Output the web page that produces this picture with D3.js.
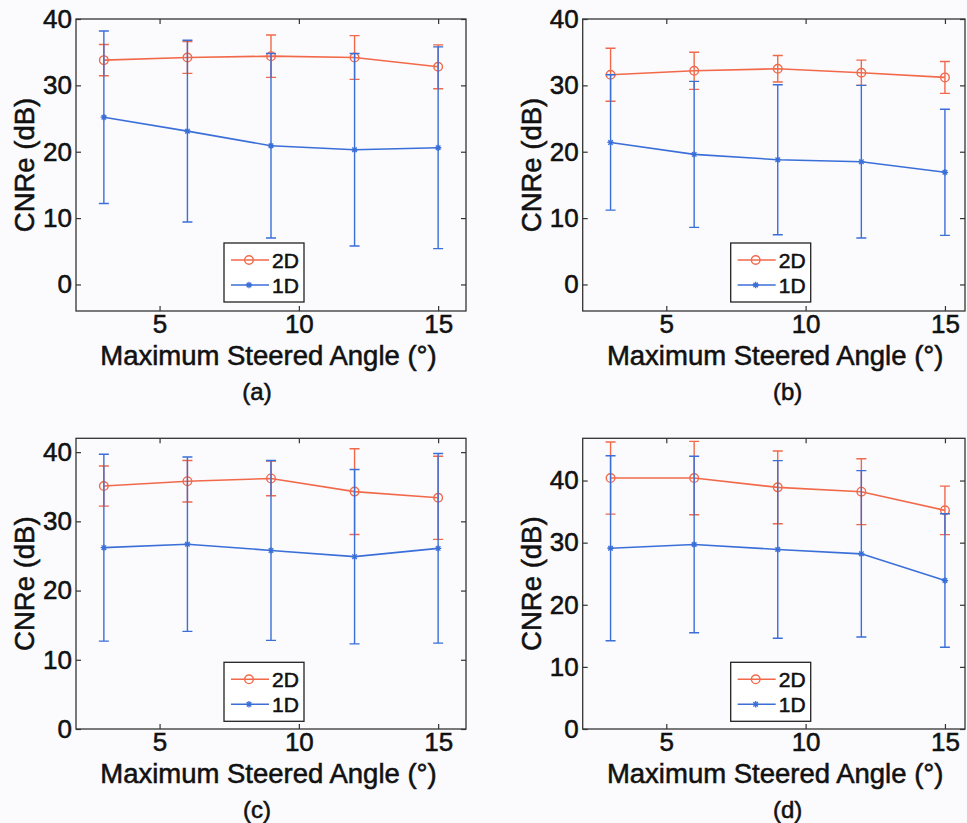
<!DOCTYPE html>
<html>
<head>
<meta charset="utf-8">
<script src="https://cdn.jsdelivr.net/npm/d3@7"></script>
<style>
  html, body { margin: 0; padding: 0; background: #fbfbfe; }
  svg { display: block; }
  text { font-family: "Liberation Sans", Arial, Helvetica, sans-serif; fill: #111; stroke: #111; stroke-width: 0.55px; }
</style>
</head>
<body>
<svg id="fig" width="967" height="823"></svg>
<script>
// Maximum steered angle (degrees) shared by all four panels
const angles = [3, 6, 9, 12, 15];
const seriesNames = ["2D", "1D"];
const panelLabels = ["(a)", "(b)", "(c)", "(d)"];
const xTicks = [5, 10, 15];
const yTicks = [0, 10, 20, 30, 40];

// CNRe mean and standard deviation (dB), panel (a)
const a2DMean = [33.8, 34.2, 34.4, 34.2, 32.8];
const a2DStd  = [2.35, 2.4, 3.2, 3.3, 3.3];
const a1DMean = [25.2, 23.1, 20.9, 20.3, 20.6];
const a1DStd  = [13.0, 13.7, 13.9, 14.5, 15.2];

// panel (b)
const b2DMean = [31.6, 32.2, 32.5, 31.9, 31.2];
const b2DStd  = [4.0, 2.8, 2.0, 1.9, 2.4];
const b1DMean = [21.4, 19.6, 18.8, 18.5, 16.9];
const b1DStd  = [10.2, 11.0, 11.3, 11.5, 9.5];

// panel (c)
const c2DMean = [35.1, 35.8, 36.2, 34.3, 33.4];
const c2DStd  = [2.9, 3.0, 2.5, 6.2, 6.0];
const c1DMean = [26.2, 26.7, 25.8, 24.9, 26.1];
const c1DStd  = [13.5, 12.6, 13.0, 12.6, 13.7];

// panel (d)
const d2DMean = [40.4, 40.4, 38.9, 38.2, 35.2];
const d2DStd  = [5.8, 5.9, 5.85, 5.3, 3.9];
const d1DMean = [29.1, 29.7, 28.9, 28.2, 23.9];
const d1DStd  = [14.9, 14.2, 14.3, 13.4, 10.75];

// axis limits per panel
const xLimits = [[2, 16], [2, 15.72], [2, 16], [2, 15.72]];
const yLimits = [[-4, 40], [-4, 40], [0, 42], [0, 46.8]];

const COLOR_2D = "#f2694a";
const COLOR_1D = "#3b6fd8";
const AXIS = "#333";

// frame placement of each axes box
const frames = [
  { left: 76,    top: 19,    right: 466, bottom: 311 },
  { left: 582.7, top: 19,    right: 965, bottom: 311 },
  { left: 76,    top: 438.3, right: 466, bottom: 729 },
  { left: 582.7, top: 438.3, right: 965, bottom: 729 }
];
const subLabelDx = [181, 205, 181, 205];

const panels = [
  { m2: a2DMean, s2: a2DStd, m1: a1DMean, s1: a1DStd },
  { m2: b2DMean, s2: b2DStd, m1: b1DMean, s1: b1DStd },
  { m2: c2DMean, s2: c2DStd, m1: c1DMean, s1: c1DStd },
  { m2: d2DMean, s2: d2DStd, m1: d1DMean, s1: d1DStd }
];

const svg = d3.select("#fig");

function asteriskPath(r) {
  const d = r * 0.7071;
  return `M0,${-r}V${r}M${-r},0H${r}M${-d},${-d}L${d},${d}M${-d},${d}L${d},${-d}`;
}

panels.forEach((p, i) => {
  const f = frames[i];
  const x = d3.scaleLinear().domain(xLimits[i]).range([f.left, f.right]);
  const y = d3.scaleLinear().domain(yLimits[i]).range([f.bottom, f.top]);
  const g = svg.append("g");

  // frame
  g.append("rect")
    .attr("x", f.left).attr("y", f.top)
    .attr("width", f.right - f.left).attr("height", f.bottom - f.top)
    .attr("fill", "none").attr("stroke", AXIS).attr("stroke-width", 1.3);

  // axes with inward ticks on all four sides
  const styleAxis = sel => {
    sel.select(".domain").remove();
    sel.selectAll(".tick line").attr("stroke", AXIS).attr("stroke-width", 1.2);
    sel.selectAll("text").attr("font-size", 26).attr("fill", "#111")
      .style("font-family", '"Liberation Sans", Arial, Helvetica, sans-serif');
  };
  g.append("g").attr("transform", `translate(0,${f.bottom})`)
    .call(d3.axisBottom(x).tickValues(xTicks).tickSizeInner(-5).tickSizeOuter(0).tickPadding(4))
    .call(styleAxis);
  g.append("g").attr("transform", `translate(0,${f.top})`)
    .call(d3.axisTop(x).tickValues(xTicks).tickSizeInner(-5).tickSizeOuter(0).tickFormat(""))
    .call(styleAxis);
  g.append("g").attr("transform", `translate(${f.left},0)`)
    .call(d3.axisLeft(y).tickValues(yTicks).tickSizeInner(-5).tickSizeOuter(0).tickPadding(4))
    .call(styleAxis);
  g.append("g").attr("transform", `translate(${f.right},0)`)
    .call(d3.axisRight(y).tickValues(yTicks).tickSizeInner(-5).tickSizeOuter(0).tickFormat(""))
    .call(styleAxis);

  // series: 2D first, 1D drawn over it
  const series = [
    { mean: p.m2, std: p.s2, color: COLOR_2D, marker: "circle" },
    { mean: p.m1, std: p.s1, color: COLOR_1D, marker: "star" }
  ];
  const capHalf = 5;
  series.forEach(s => {
    const pts = angles.map((a, k) => ({ a, m: s.mean[k], e: s.std[k] }));
    const sg = g.append("g");
    // error bars
    pts.forEach(d => {
      const yt = y(d.m + d.e), yb = y(d.m - d.e), xc = x(d.a);
      sg.append("path")
        .attr("d", `M${xc},${yt}V${yb}M${xc - capHalf},${yt}H${xc + capHalf}M${xc - capHalf},${yb}H${xc + capHalf}`)
        .attr("fill", "none").attr("stroke", s.color).attr("stroke-width", 1.4);
    });
    // mean line
    sg.append("path").datum(pts)
      .attr("d", d3.line().x(d => x(d.a)).y(d => y(d.m)))
      .attr("fill", "none").attr("stroke", s.color).attr("stroke-width", 1.6);
    // markers
    if (s.marker === "circle") {
      sg.selectAll("circle").data(pts).join("circle")
        .attr("cx", d => x(d.a)).attr("cy", d => y(d.m)).attr("r", 4.3)
        .attr("fill", "none").attr("stroke", s.color).attr("stroke-width", 1.4);
    } else {
      sg.selectAll(".star").data(pts).join("path").attr("class", "star")
        .attr("transform", d => `translate(${x(d.a)},${y(d.m)})`)
        .attr("d", asteriskPath(3.2))
        .attr("fill", "none").attr("stroke", s.color).attr("stroke-width", 1.3);
    }
  });

  // legend
  const lg = g.append("g").attr("transform", `translate(${f.left + 148},${f.top + 224})`);
  lg.append("rect").attr("width", 80).attr("height", 59)
    .attr("fill", "#fff").attr("stroke", "#222").attr("stroke-width", 1.3);
  seriesNames.forEach((name, k) => {
    const ry = 17 + k * 25;
    const color = k === 0 ? COLOR_2D : COLOR_1D;
    lg.append("line").attr("x1", 7).attr("x2", 45).attr("y1", ry).attr("y2", ry)
      .attr("stroke", color).attr("stroke-width", 1.6);
    if (k === 0) {
      lg.append("circle").attr("cx", 25).attr("cy", ry).attr("r", 4.3)
        .attr("fill", "none").attr("stroke", color).attr("stroke-width", 1.4);
    } else {
      lg.append("path").attr("transform", `translate(25,${ry})`).attr("d", asteriskPath(3.2))
        .attr("fill", "none").attr("stroke", color).attr("stroke-width", 1.3);
    }
    lg.append("text").attr("x", 48).attr("y", ry + 7.5).attr("font-size", 21).text(name);
  });

  // axis titles
  g.append("text")
    .attr("x", f.left + 192.5).attr("y", f.bottom + 54)
    .attr("text-anchor", "middle").attr("font-size", 27.5)
    .text("Maximum Steered Angle (°)");
  g.append("text")
    .attr("transform", `translate(${f.left - 42},${(f.top + f.bottom) / 2}) rotate(-90)`)
    .attr("text-anchor", "middle").attr("font-size", 27.5)
    .text("CNRe (dB)");

  // sub-figure label
  g.append("text")
    .attr("x", f.left + subLabelDx[i]).attr("y", f.bottom + 89)
    .attr("text-anchor", "middle").attr("font-size", 24)
    .text(panelLabels[i]);
});
</script>
</body>
</html>
